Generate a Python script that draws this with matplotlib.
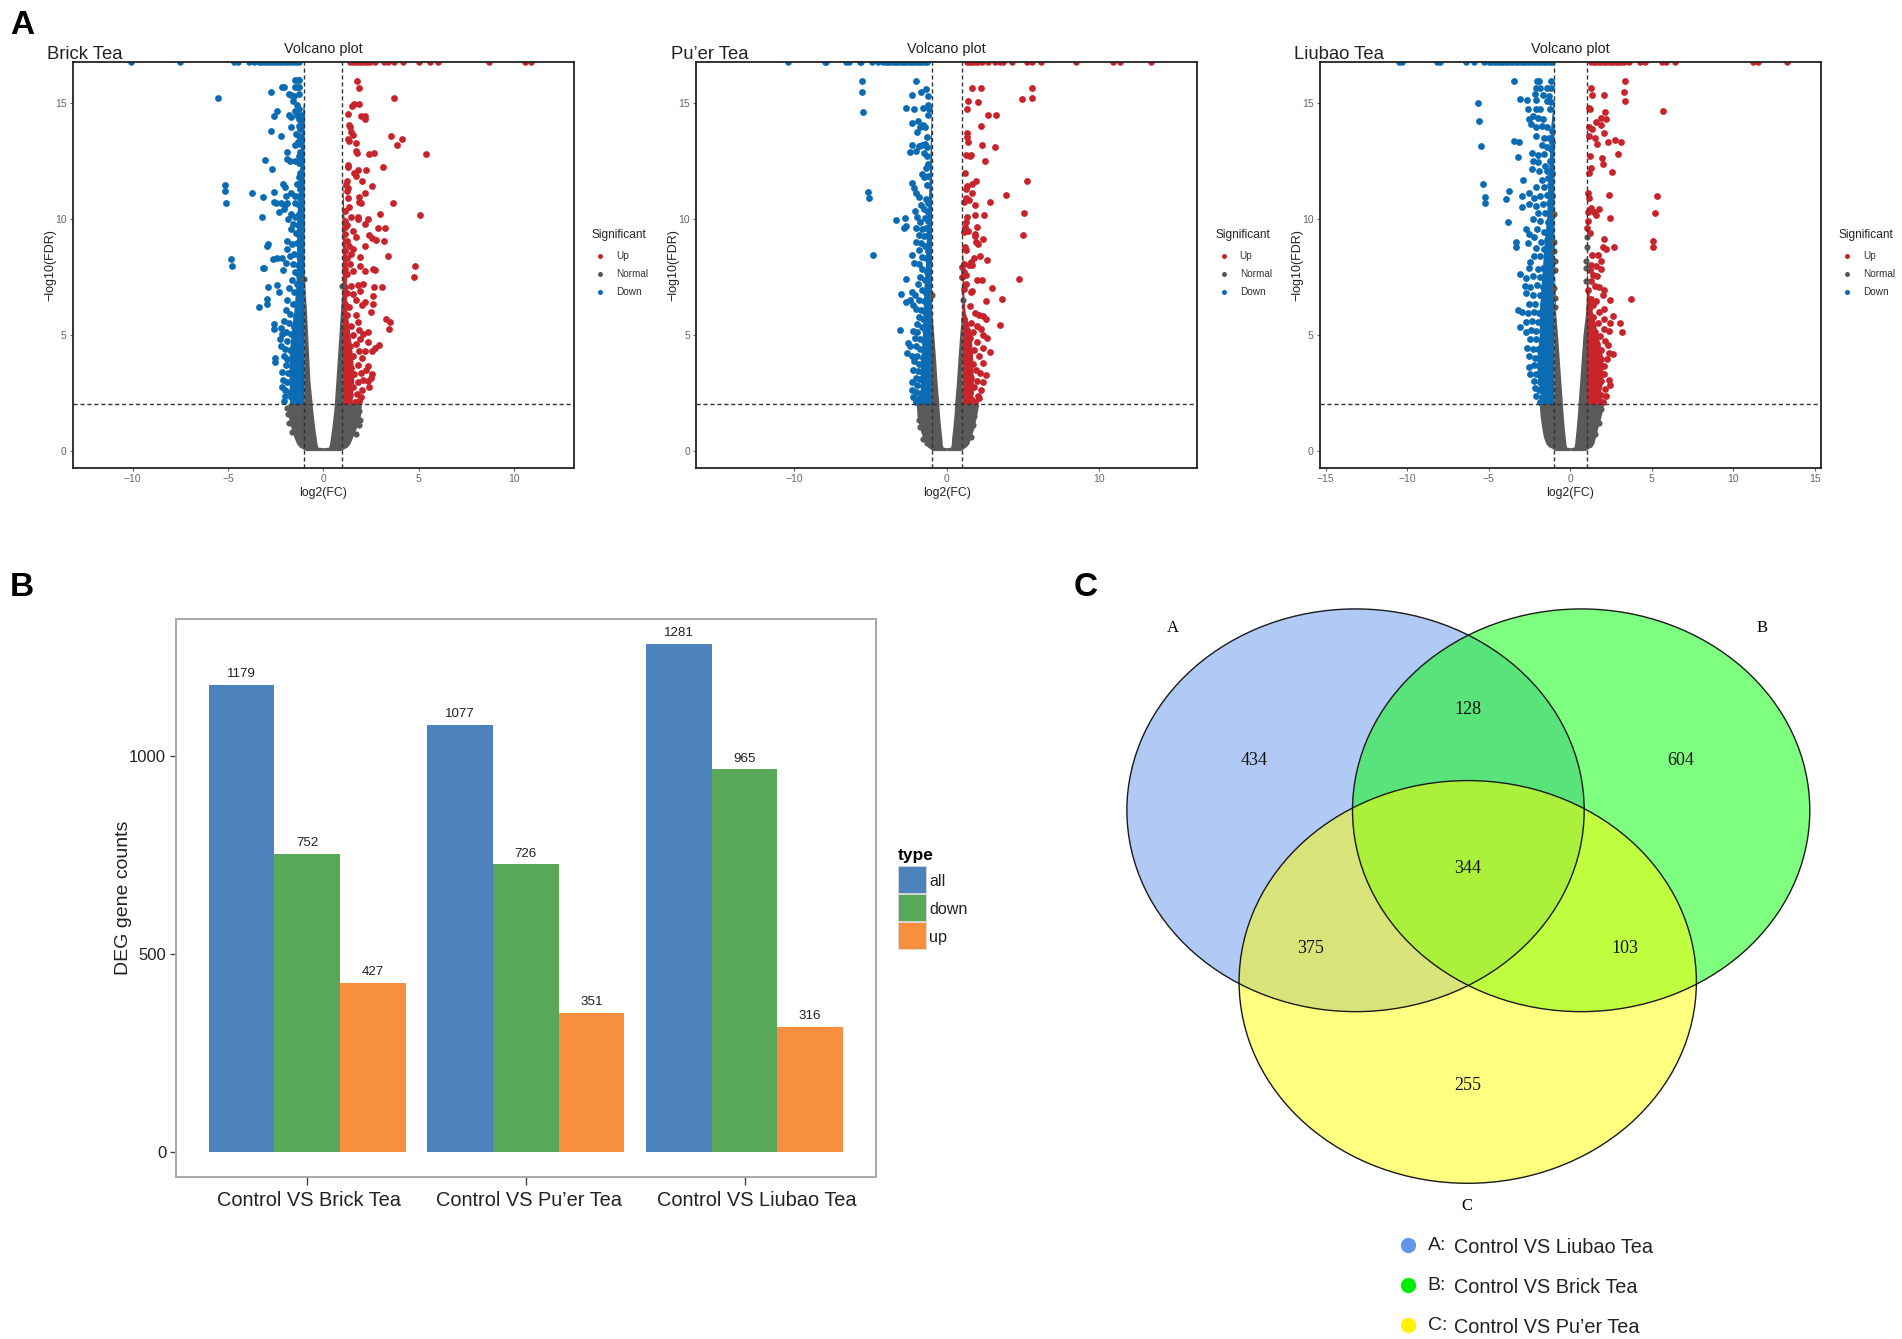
import matplotlib
matplotlib.use("Agg")
import matplotlib.pyplot as plt
from matplotlib.patches import Ellipse, Rectangle

plt.rcParams['font.family'] = ['Liberation Sans', 'DejaVu Sans']

W, H = 1902, 1339
K = 1902 / 1568  # reference coordinates were read at 1568 wide

RED = "#C8242B"
BLUE = "#0B6CB3"
GREY = "#5A5A5A"

# ---- panel A, points (log2FC, -log10FDR)
brick_down = [(-5.55,15.24),(-5.18,11.47),(-5.16,11.2),(-5.09,10.68),(-4.82,8.25),(-4.79,7.97),(-3.72,11.14),(-3.17,10.94),(-3.2,10.08),
    (-3.06,12.55),(-2.69,12.14),(-2.72,15.47),(-2.6,14.45),(-2.42,14.64),(-2.72,13.79),(-2.21,13.59),(-2.58,11.15),(-2.6,10.72),(-2.88,8.9),(-2.95,8.85),
    (-3.17,7.88),(-3.1,7.88),(-2.65,8.28),(-2.45,8.32),(-3.38,6.2),(-2.95,6.53),(-2.88,7.06),(-2.42,7.13),(-2.3,6.85),(-2.95,6.35),(-2.6,5.48),(-2.6,5.27),
    (-2.51,3.98),(-2.55,3.82),(-1.5,16),(-1.35,16),(-1.25,16),(-2.15,15.7),(-2.05,15.7),(-1.5,15.7),(-1.4,15.7),(-1.25,15.7),(-1.8,15.4),(-1.7,15.35),
    (-1.55,15.3),(-1.3,15.4),(-1.6,15.1),(-1.4,14.9),(-1.5,14.65),(-1.25,14.75),(-1.15,14.5),(-1.8,14.5),(-1.7,14.4),(-1.4,14.5),(-1.25,14.3),(-1.7,13.95),
    (-1.3,14),(-1.2,13.9),(-1.15,14.15),(-1.45,13.65),(-1.3,13.6),(-1.15,13.5),(-1.5,13.2),(-1.35,13.3),(-1.2,13.25),(-1.9,12.9),(-1.2,12.9),(-1.3,12.7),
    (-1.9,12.6),(-1.75,12.5),(-1.5,12.5),(-1.3,12.4),(-1.15,12.6),(-1.2,12),(-1.3,11.8),(-1.15,11.6),(-2.1,11.5),(-2,11.4),(-1.4,11.5),(-1.2,11.3),(-1.7,11.1),
    (-1.5,11),(-1.3,11),(-1.2,10.9),(-1.95,11),(-2.5,10.7),(-2.2,10.7),(-2,10.6),(-1.9,10.7),(-1.5,10.7),(-1.3,10.6),(-2.3,10.3),(-2.05,10.45),(-1.7,10.2),
    (-1.5,10.1),(-1.3,10.2),(-1.15,10.1),(-1.85,10),(-1.6,9.8),(-1.35,9.75),(-1.15,9.7),(-1.7,9.55),(-1.45,9.4),(-1.25,9.3),(-1.9,9.05),(-1.65,8.9),(-1.4,8.95),
    (-1.2,8.8),(-1.9,8.7),(-1.75,8.4),(-1.55,8.5),(-1.3,8.4),(-2.15,8.3),(-1.95,8.1),(-1.6,8.05),(-1.35,8),(-2.1,7.8),(-1.5,7.7),(-1.25,7.6),(-1.65,7.35),(-1.4,7.2),
    (-1.8,7),(-1.55,6.85),(-1.3,6.8),(-1.9,6.5),(-1.6,6.35),(-1.35,6.2),(-1.95,6.05),(-1.75,5.9),(-1.45,5.75),(-2.05,5.6),(-1.8,5.5),(-1.55,5.35),(-1.3,5.3),
    (-2.2,5.3),(-2.15,5.05),(-1.95,5.1),(-1.7,5.05),(-2.25,4.8),(-1.9,4.75),(-1.55,4.7),(-1.3,4.65),(-2.2,4.5),(-2,4.4),(-1.75,4.35),(-1.45,4.3),(-2.05,4.1),
    (-1.9,3.95),(-1.6,4),(-1.3,3.95),(-1.95,3.7),(-1.65,3.65),(-1.4,3.55),(-2.15,3.4),(-1.85,3.35),(-1.6,3.25),(-1.3,3.2),(-2.1,3.05),(-1.9,2.95),(-1.55,2.9),
    (-2.15,2.75),(-2,2.6),(-1.75,2.55),(-1.45,2.6),(-2,2.35),(-1.7,2.3),(-1.35,2.25),(-2.05,2.12),(-1.6,2.1),(-1.25,2.1)]
brick_up = [(1.78,15.95),(1.87,15.65),(3.7,15.24),(1.53,14.87),(1.62,14.94),(1.9,14.94),(1.3,14.55),(1.99,14.43),(2.19,14.45),(2.21,14.3),(1.35,14.07),(1.42,13.95),
    (1.46,13.74),(1.58,13.64),(3.58,13.56),(4.11,13.46),(3.86,13.19),(1.3,13.45),(1.37,13.35),(1.71,13.26),(1.74,12.95),(1.76,12.85),(2.42,12.8),(2.65,12.83),
    (5.37,12.8),(1.3,12.34),(1.28,12.23),(3.15,12.23),(1.83,12.11),(1.62,12),(2.24,12.11),(1.7,11.85),(2.03,11.64),(2.56,11.44),(1.23,11.65),(1.21,11.45),(1.23,11.2),
    (1.3,11.35),(2.21,11.1),(1.9,10.94),(1.32,10.9),(3.65,10.7),(1.85,10.72),(1.99,10.69),(1.37,10.5),(1.14,10.36),(2.99,10.22),(5.09,10.19),(1.46,10.1),(1.83,10.08),
    (1.83,9.98),(2.33,9.99),(2.21,9.79),(1.12,9.9),(1.24,9.75),(1.12,9.65),(1.55,9.5),(2.85,9.63),(3.22,9.63),(2.42,9.29),(2.56,9.16),(2.79,9.1),(3.17,9.04),(2.21,8.83),
    (1.12,9.35),(1.24,9.05),(1.7,9.2),(1.35,8.85),(1.58,8.7),(1.12,8.63),(1.46,8.5),(1.24,8.3),(1.92,8.35),(3.42,8.38),(1.92,7.99),(1.42,8.06),(4.84,7.98),(4.77,7.49),
    (2.21,7.75),(2.6,7.84),(2.74,7.78),(1.12,7.85),(1.24,7.63),(1.58,7.75),(1.12,7.06),(1.46,7.09),(1.8,7.13),(2.08,7.2),(2.65,7.06),(3.1,7.06),(1.92,6.9),(1.24,6.8),(1.55,6.77),
    (2.63,6.69),(1.7,6.5),(2.19,6.42),(2.6,6.34),(1.12,6.35),(1.35,6.2),(2.03,6.3),(2.49,5.99),(1.74,5.85),(1.24,5.85),(3.29,5.66),(3.52,5.54),(3.47,5.27),(1.8,5.55),(1.46,5.4),
    (1.12,5.2),(1.87,5.2),(2.37,5.1),(2.1,5.05),(1.58,5),(2.33,4.7),(1.95,4.8),(1.24,4.75),(2.95,4.55),(2.74,4.44),(2.56,4.31),(1.7,4.6),(1.4,4.5),(2.2,4.3),(1.85,4.3),
    (1.12,4.3),(1.58,4.1),(2.03,4),(1.3,3.95),(2.35,3.65),(1.8,3.7),(1.45,3.55),(2.25,3.5),(1.12,3.6),(2,3.35),(1.62,3.3),(2.55,3.3),(2.5,3.15),(2.35,3),(2.1,3.05),
    (1.3,3.1),(1.8,2.95),(2.4,2.75),(1.55,2.75),(2.03,2.6),(1.15,2.7),(1.75,2.45),(1.4,2.4),(2,2.3),(1.65,2.1),(1.2,2.15),(1.9,2.15)]
puer_down = [(-5.55,15.95),(-5.55,15.47),(-5.47,14.63),(-5.15,11.18),(-5.12,10.92),(-4.85,8.44),(-3.32,9.96),(-2.73,10.06),(-2.79,9.62),(-2.7,9.68),(-2.65,14.8),(-2.98,6.77),
    (-2.68,7.39),(-2.68,6.42),(-3.06,5.22),(-2.04,15.95),(-2.28,15.34),(-1.66,15.46),(-1.39,15.63),(-2.12,14.74),(-1.55,14.81),(-2.25,14.12),(-1.88,14.21),(-1.74,13.95),
    (-1.53,14.07),(-1.4,13.98),(-1.93,13.74),(-1.32,13.55),(-2.44,12.89),(-2.25,13.2),(-1.8,13.15),(-1.6,13.2),(-1.4,13.22),(-2.05,12.95),(-1.5,12.85),(-1.3,12.7),(-1.2,15.3),(-1.25,14.9),
    (-1.25,14.5),(-1.15,14.75),(-1.3,13.1),(-1.2,12.35),(-1.35,12.2),(-1.6,11.95),(-1.2,11.85),(-1.5,11.8),(-2.3,11.55),(-2.15,11.35),(-1.3,11.45),(-2.05,11.1),(-1.85,10.95),(-1.35,10.85),
    (-1.2,10.7),(-1.7,10.6),(-1.5,10.45),(-2.1,10.35),(-1.25,10.3),(-1.95,10.1),(-1.4,10.05),(-1.75,9.85),(-1.2,9.9),(-2,9.6),(-1.6,9.55),(-1.35,9.6),(-1.8,9.3),(-1.5,9.25),(-1.2,9.3),
    (-2,9),(-1.7,8.95),(-1.4,8.85),(-1.85,8.65),(-1.2,8.6),(-2.3,8.45),(-1.6,8.35),(-1.35,8.3),(-2.15,8.1),(-1.85,8.05),(-1.15,8.1),(-1.6,7.85),(-1.3,7.7),(-1.75,7.5),(-1.45,7.35),(-1.2,7.3),
    (-1.9,7.2),(-2.3,6.85),(-2.1,6.7),(-1.6,6.95),(-1.35,6.8),(-2.4,6.5),(-2.2,6.3),(-1.8,6.5),(-1.5,6.45),(-1.25,6.3),(-2.05,6.1),(-1.7,6.05),(-1.4,6),(-1.85,5.75),(-1.55,5.7),(-1.25,5.6),
    (-1.95,5.45),(-1.65,5.35),(-2.2,5.15),(-1.95,5.1),(-1.45,5.2),(-1.25,5.1),(-2.1,4.85),(-1.75,4.8),(-1.5,4.75),(-2.55,4.65),(-2.4,4.5),(-2.05,4.5),(-1.75,4.4),(-1.35,4.4),(-2.6,4.2),(-2.3,4.1),
    (-1.95,4.1),(-1.55,4),(-2.15,3.85),(-1.8,3.75),(-1.35,3.7),(-2.2,3.5),(-1.9,3.45),(-1.6,3.4),(-2.05,3.15),(-1.75,3.1),(-1.35,3.05),(-2.3,2.95),(-1.95,2.85),(-1.55,2.8),(-2.3,2.6),(-2.05,2.55),
    (-1.7,2.5),(-1.35,2.45),(-2.2,2.3),(-1.85,2.25),(-1.5,2.2),(-2,2.1),(-1.65,2.08),(-1.25,2.1)]
puer_up = [(1.69,15.65),(2.25,15.65),(5.6,15.65),(4.93,15.17),(5.58,15.24),(1.42,15.1),(2.04,15.04),(1.34,14.74),(2.73,14.47),(3.22,14.47),(2.23,14),(1.31,13.72),(1.34,13.55),
    (1.39,13.32),(2.31,13.2),(3.14,13.1),(1.29,12.76),(1.5,12.73),(1.6,12.76),(2.52,12.5),(1.21,12),(1.9,11.63),(5.25,11.65),(1.64,11.49),(1.34,11.44),(1.29,11.3),(3.89,11.05),(1.64,11.1),
    (1.29,10.9),(2.81,10.75),(1.15,10.75),(1.47,10.83),(1.88,10.62),(5.09,10.26),(1.85,10.18),(2.47,10.18),(1.34,10.08),(1.29,9.87),(1.21,9.65),(1.96,9.65),(4.99,9.32),(1.1,9.44),
    (1.42,9.5),(1.88,9.36),(1.88,9.26),(2.36,9.13),(1.9,9),(2.04,8.93),(1.21,8.8),(1.29,8.64),(2.17,8.38),(2.63,8.22),(1.77,8.32),(1.6,8.14),(1.45,8),(1.15,8.07),(1.02,7.93),(1.69,8),(1.15,7.7),
    (1.29,7.56),(1.02,7.49),(1.96,7.38),(2.31,7.38),(4.75,7.41),(2.95,7.02),(1.29,7.2),(1.15,6.98),(1.69,6.88),(1.6,6.84),(3.65,6.55),(2.55,6.47),(1.5,6.23),(1.88,5.92),(2.1,5.85),(2.4,5.8),
    (2.55,5.7),(3.51,5.43),(1.15,5.7),(1.6,5.5),(2,5.4),(2.25,5.25),(1.3,5.2),(1.75,5.1),(2.4,5),(2.65,4.85),(1.5,4.85),(2,4.7),(1.2,4.6),(2.35,4.45),(2.85,4.25),(1.8,4.35),(1.45,4.2),
    (2.1,4.1),(1.2,4),(2.35,3.8),(1.7,3.75),(1.95,3.5),(1.35,3.45),(2.2,3.35),(2.55,3.25),(1.6,3.15),(2,3),(2.4,2.95),(1.25,2.9),(1.8,2.75),(2.25,2.6),(1.5,2.55),(1.1,2.45),(2.05,2.35),(2.15,2.25),
    (1.65,2.2),(1.3,2.12),(1.85,2.1)]
liubao_down = [(-5.65,15),(-5.58,14.22),(-5.48,13.15),(-5.33,11.5),(-5.25,10.94),(-5.23,10.68),(-3.74,11.22),(-3.92,10.85),(-3.82,9.85),(-3.44,15.95),(-3.07,15.17),(-3.47,13.38),(-3.17,13.3),
    (-3.19,12.66),(-2.89,11.7),(-2.96,10.97),(-2.96,10.53),(-3.34,9.01),(-3.32,8.77),(-3.07,7.64),(-3.19,6.09),(-2.95,5.98),(-3.09,5.34),(-2.05,15.95),(-1.9,15.95),(-1.2,15.95),(-2.1,15.65),(-1.85,15.65),
    (-1.4,15.65),(-1.2,15.65),(-2.15,15.4),(-1.7,15.35),(-1.3,15.3),(-2.65,15.15),(-2.1,15.15),(-1.4,15.1),(-1.2,15.05),(-2.6,14.75),(-2.1,14.75),(-1.85,14.75),(-1.25,14.75),(-2.55,14.3),(-2.3,14.45),
    (-1.95,14.35),(-1.65,14.3),(-2.4,14.1),(-2.1,13.95),(-1.75,14),(-1.4,13.95),(-1.15,13.8),(-2.1,13.6),(-1.6,13.5),(-1.3,13.5),(-1.15,13.3),(-1.75,13.2),(-1.4,13.1),(-1.2,13),(-2.35,12.85),(-2,12.75),
    (-1.6,12.8),(-2.3,12.5),(-1.95,12.45),(-1.55,12.3),(-1.25,12.5),(-2.35,12.15),(-1.9,12.05),(-1.4,12.05),(-1.15,12),(-1.75,11.7),(-1.35,11.75),(-2.1,11.4),(-1.6,11.4),(-1.25,11.45),(-2.55,11.1),(-2.25,10.9),
    (-1.85,11),(-1.45,11.05),(-1.15,11),(-2.55,10.65),(-2.1,10.55),(-1.7,10.65),(-1.3,10.7),(-2,10.25),(-1.55,10.25),(-1.2,10.2),(-2.3,10),(-1.85,9.9),(-1.35,9.85),(-2.7,9.55),(-2.5,9.35),(-2.05,9.55),(-1.6,9.45),
    (-1.25,9.5),(-2.2,9.2),(-1.8,9),(-1.4,9.1),(-2.6,8.95),(-2.1,8.75),(-1.6,8.7),(-1.2,8.75),(-2.45,8.15),(-2.2,8.4),(-1.85,8.4),(-1.4,8.35),(-2.5,7.9),(-2,7.85),(-1.65,7.9),(-1.25,7.95),(-2.7,7.45),(-2.3,7.55),(-1.85,7.5),
    (-1.45,7.55),(-2.75,7.1),(-2.45,7.05),(-2.05,7.15),(-1.65,7.05),(-1.2,7.15),(-2.7,6.8),(-2.3,6.7),(-1.85,6.7),(-1.45,6.75),(-2.55,6.35),(-2.15,6.35),(-1.7,6.35),(-1.25,6.4),(-2.6,5.95),(-2.25,6),(-1.9,5.95),(-1.5,6),
    (-2.7,5.55),(-2.35,5.6),(-2,5.55),(-1.6,5.6),(-1.25,5.6),(-2.7,5.1),(-2.4,5.2),(-2.1,5.15),(-1.75,5.15),(-1.4,5.2),(-2.45,4.8),(-2.1,4.8),(-1.75,4.75),(-1.3,4.85),(-2.65,4.45),(-2.3,4.4),(-1.95,4.4),(-1.55,4.4),(-2.5,4.1),(-2.15,4),
    (-1.8,4.05),(-1.35,4),(-2.55,3.6),(-2.25,3.7),(-1.9,3.65),(-1.5,3.7),(-2.45,3.3),(-2.1,3.3),(-1.7,3.3),(-1.3,3.3),(-2.2,3),(-1.85,2.95),(-1.5,2.95),(-2.15,2.7),(-1.9,2.6),(-1.6,2.65),(-1.25,2.65),(-2.1,2.35),(-1.75,2.3),(-1.4,2.35),
    (-1.85,2.1),(-1.55,2.08),(-1.2,2.1)]
liubao_up = [(3.39,15.95),(1.28,15.65),(3.27,15.47),(1.33,15.34),(2.09,15.34),(3.34,15.1),(1.13,14.8),(1.21,14.73),(2.14,14.63),(5.68,14.64),(1.91,14.35),(2.21,14.31),(1.61,14.18),(1.86,14.05),(1.18,13.95),(1.36,13.9),(2.06,13.7),
    (1.16,13.6),(1.51,13.49),(1.63,13.25),(2.34,13.33),(2.76,13.39),(3.12,13.3),(2.94,12.8),(1.21,12.73),(1.96,12.62),(1.98,12.36),(1.26,12.2),(1.13,12),(2.56,12.04),(1.06,11.1),(2.36,11.02),(5.33,11.01),(1.18,10.9),(1.78,10.41),(1.26,10.48),
    (1.11,10.32),(1.43,10.3),(1.58,10.15),(5.23,10.26),(2.44,10.06),(1.06,9.9),(1.01,9.6),(1.21,9.4),(2.06,9.13),(5.1,9.03),(5.08,8.77),(2.01,8.8),(2.21,8.7),(2.66,8.78),(1.36,8.45),(1.68,8.45),(1.91,8.17),(1.3,8),(1.55,7.95),(1.9,7.85),
    (1.2,7.8),(1.4,7.6),(1.65,7.55),(1.25,7.3),(1.5,7.1),(1.75,7.05),(2.1,6.95),(1.1,6.95),(3.72,6.55),(2.03,6.7),(2.45,6.5),(1.25,6.55),(1.6,6.45),(1.4,6.3),(2.1,6.1),(1.15,6.1),(1.75,6),(2.6,5.8),(1.4,5.75),(2.05,5.7),(3.05,5.5),(2.45,5.5),(1.7,5.5),
    (1.2,5.4),(2.05,5.25),(3.2,5.1),(2.35,5.15),(1.5,5.1),(1.85,4.95),(2.15,4.75),(1.3,4.8),(1.65,4.6),(2.3,4.55),(1.1,4.4),(1.9,4.35),(2.4,4.2),(2.6,4.15),(2.25,3.95),(1.5,4.05),(1.9,3.95),(1.25,3.8),(1.7,3.7),(2.1,3.65),(1.45,3.5),(1.85,3.4),
    (2.1,3.3),(1.25,3.3),(1.6,3.2),(2.35,3.05),(2.45,2.85),(1.9,3),(1.35,2.9),(1.7,2.75),(2.15,2.65),(1.15,2.6),(1.5,2.5),(1.9,2.4),(2.2,2.35),(1.3,2.25),(1.75,2.15),(1.15,2.1),(1.55,2.1),(2,2.1)]

# points pushed to the top edge, only x can be read
brick_top_down = [-10.1,-7.5,-4.7,-4.5,-3.9,-3.65,-3.4,-3.25,-3.1,-2.95,-2.8,-2.65,-2.5,-2.35,-2.2,-2.05,-1.9,-1.75,-1.6,-1.45,-1.3]
brick_top_up = [1.4,1.55,1.7,1.85,2,2.15,2.3,2.45,2.7,3.2,3.4,3.7,4.2,5,5.6,6,8.7,10.6,10.9]
puer_top_down = [-10.4,-8,-7.9,-6.6,-6.4,-5.7,-5.6,-4.9,-4.5,-4.2,-4,-3.85,-3.7,-3.55,-3.4,-3.25,-3.1,-2.95,-2.8,-2.65,-2.5,-2.35,-2.2,-2.05,-1.9,-1.75,-1.6,-1.45,-1.3]
puer_top_up = [1.3,1.45,1.6,1.75,1.9,2.05,2.3,2.7,3.2,3.5,3.7,4.3,5.3,5.6,6.2,8.5,10.9,11.4,13.4]
liubao_top_down = [-10.5,-10.3,-8.2,-8,-6.4,-5.9,-5.3,-5,-4.85,-4.7,-4.55,-4.4,-4.25,-4.1,-3.95,-3.8,-3.65,-3.5,-3.35,-3.2,-3.05,-2.9,-2.75,-2.6,-2.45,-2.3,-2.15,-2,-1.85,-1.7,-1.55,-1.4,-1.25,-1.1]
liubao_top_up = [1.3,1.45,1.6,1.75,1.9,2.05,2.2,2.35,2.5,2.65,2.8,2.95,3.1,3.3,3.6,4.3,4.6,5.6,5.9,6.4,11.2,11.5,13.3]

# grey V: y levels with the outer and inner edge on each side
grey_y = [0,0.06,0.13,0.15,0.3,0.6,1,1.5,1.98,2.02,3,4,5,6,7,7.7]
brick_out_l = [-0.9,-1.05,-1.2,-1.25,-1.4,-1.55,-1.7,-1.85,-1.9,-1,-1,-1,-1,-1,-1,-1]
brick_in_l = [0,0,0,-0.28,-0.33,-0.38,-0.45,-0.52,-0.58,-0.58,-0.7,-0.76,-0.82,-0.88,-0.96,-1]
brick_out_r = [0.9,1.05,1.2,1.25,1.4,1.55,1.75,1.95,2,1,1,1,1,1,1,1]
brick_in_r = [0,0,0,0.28,0.33,0.38,0.45,0.52,0.58,0.58,0.66,0.74,0.82,0.9,0.98,1]
puer_out_l = [-0.9,-1.05,-1.2,-1.25,-1.45,-1.6,-1.8,-1.95,-2,-1,-1,-1,-1,-1,-1,-1]
puer_in_l = [0,0,0,-0.25,-0.3,-0.33,-0.4,-0.47,-0.52,-0.52,-0.64,-0.74,-0.85,-0.98,-1,-1]
puer_out_r = [0.9,1.05,1.2,1.25,1.45,1.6,1.8,1.95,2.1,1,1,1,1,1,1,1]
puer_in_r = [0,0,0,0.25,0.3,0.33,0.4,0.47,0.52,0.52,0.64,0.74,0.85,0.98,1,1]
liubao_out_l = [-0.9,-1.05,-1.2,-1.3,-1.5,-1.65,-1.75,-1.85,-1.9,-1,-1,-1,-1,-1,-0.97,-0.97]
liubao_in_l = [0,0,0,-0.22,-0.27,-0.31,-0.37,-0.43,-0.48,-0.48,-0.58,-0.68,-0.78,-0.9,-0.93,-0.97]
liubao_out_r = [0.9,1.05,1.2,1.3,1.45,1.55,1.7,1.9,2.05,1,1,1,1,1,1,1]
liubao_in_r = [0,0,0,0.22,0.27,0.31,0.37,0.43,0.48,0.48,0.58,0.68,0.78,0.95,1,1]

# single grey points that stick out of the V
brick_grey = [(-1.85,1.6),(-1.8,1.2),(-1.9,1.85),(-1.65,0.8),(1.9,1.7),(1.95,1.3),(1.85,1.1),(1.7,0.7),(-1,7.4),(0.97,7.1)]
puer_grey = [(-1.85,1.3),(-1.75,1),(-1.55,0.5),(-1.3,0.35),(1.8,1.5),(1.75,1.1),(1.6,0.6),(1.05,6.5),(-1,6.7)]
liubao_grey = [(-0.95,6.2),(-0.95,6.6),(-0.97,7),(-0.95,7.8),(-0.95,8.2),(-1,8.6),(-1,9),(-1.02,10.2),(1,8.8),(1,9.2),(0.97,7.3),(0.95,7.9),(0.95,8.2),(1.9,1.8),(1.75,1.2),(1.5,0.7)]

# thick part of the blue and red columns next to the threshold
core_y = [2,3,4,5,6,7,8,9,10,11,12,13,14,15]
brick_core_down = [-1.75,-1.8,-1.8,-1.7,-1.55,-1.45,-1.4,-1.4,-1.4,-1.3,-1.25,-1.2,-1.15,-1.05]
brick_core_up = [1.5,1.6,1.55,1.4,1.25,1.2,1.25,1.15,1.1,1.05,1,1,1,1]
puer_core_down = [-1.7,-1.75,-1.7,-1.6,-1.55,-1.5,-1.4,-1.35,-1.3,-1.2,-1.15,-1.1,-1.05,-1]
puer_core_up = [1.7,1.75,1.7,1.6,1.2,1.1,1.1,1,1,1,1,1,1,1]
liubao_core_down = [-1.7,-2,-2.05,-1.9,-1.9,-1.8,-1.7,-1.6,-1.45,-1.4,-1.35,-1.25,-1.2,-1.05]
liubao_core_up = [1.7,2,2,1.7,1.35,1.1,1,1,1,1,1,1,1,1]

volcano_names = ["Brick Tea", "Pu\u2019er Tea", "Liubao Tea"]
volcano_ticks = [[-10,-5,0,5,10], [-10,0,10], [-15,-10,-5,0,5,10,15]]
volcano_xlim = [13.15, 16.45, 15.37]
legend_levels = ["Up", "Normal", "Down"]

# ---- panel B
pairs = ["Control VS Brick Tea", "Control VS Pu\u2019er Tea", "Control VS Liubao Tea"]
deg_all = [1179, 1077, 1281]
deg_down = [752, 726, 965]
deg_up = [427, 351, 316]
deg_types = ["all", "down", "up"]
deg_colors = ["#4C83BC", "#59A859", "#F88F3E"]

# ---- panel C
venn_counts = [434, 604, 255, 128, 375, 103, 344]
venn_names = ["Control VS Liubao Tea", "Control VS Brick Tea", "Control VS Pu\u2019er Tea"]
venn_colors = ["#6495ED", "#00FF00", "#FFFF00"]


def add_px_axes(l, t, r, b):
    return fig.add_axes([l * K / W, 1 - b * K / H, (r - l) * K / W, (b - t) * K / H])


fig = plt.figure(figsize=(W / 100, H / 100), dpi=100)

# overlay in reference coordinates, for free text and the venn
ov = fig.add_axes([0, 0, 1, 1], zorder=5)
ov.set_xlim(0, W / K)
ov.set_ylim(H / K, 0)
ov.axis("off")

volcano_boxes = [(60, 473), (574, 987), (1088, 1501)]
volcano_data = [
    (brick_down, brick_up, brick_top_down, brick_top_up, brick_out_l, brick_in_l, brick_out_r, brick_in_r, brick_core_down, brick_core_up, brick_grey),
    (puer_down, puer_up, puer_top_down, puer_top_up, puer_out_l, puer_in_l, puer_out_r, puer_in_r, puer_core_down, puer_core_up, puer_grey),
    (liubao_down, liubao_up, liubao_top_down, liubao_top_up, liubao_out_l, liubao_in_l, liubao_out_r, liubao_in_r, liubao_core_down, liubao_core_up, liubao_grey),
]

for i, data in enumerate(volcano_data):
    down, up, top_d, top_u, out_l, in_l, out_r, in_r, core_d, core_u, extra = data
    l, r = volcano_boxes[i]
    ax = add_px_axes(l, 51, r, 386)
    lim = volcano_xlim[i]
    ax.set_xlim(-lim, lim)
    ax.set_ylim(-0.76, 16.78)
    top = 16.78

    ax.fill_betweenx(core_y, core_d, -1, color=BLUE, lw=0, zorder=2)
    ax.fill_betweenx(core_y, 1, core_u, color=RED, lw=0, zorder=2)
    ax.scatter([p[0] for p in down], [p[1] for p in down], s=24, color=BLUE, lw=0, zorder=2)
    ax.scatter([p[0] for p in up], [p[1] for p in up], s=24, color=RED, lw=0, zorder=2)
    ax.scatter(top_d, [top] * len(top_d), s=22, color=BLUE, lw=0, zorder=2)
    ax.scatter(top_u, [top] * len(top_u), s=22, color=RED, lw=0, zorder=2)
    ax.fill_betweenx(grey_y, out_l, in_l, color=GREY, lw=0, zorder=3)
    ax.fill_betweenx(grey_y, in_r, out_r, color=GREY, lw=0, zorder=3)
    ax.scatter([p[0] for p in extra], [p[1] for p in extra], s=20, color=GREY, lw=0, zorder=3)

    ax.axhline(2, color="#333333", ls=(0, (3, 2)), lw=1, zorder=4)
    ax.axvline(-1, color="#333333", ls=(0, (3, 2)), lw=1, zorder=4)
    ax.axvline(1, color="#333333", ls=(0, (3, 2)), lw=1, zorder=4)

    ax.set_xticks(volcano_ticks[i])
    ax.set_xticklabels([str(t).replace("-", "\u2212") for t in volcano_ticks[i]])
    ax.set_yticks([0, 5, 10, 15])
    ax.tick_params(labelsize=7.5, colors="#666666", length=2.5, width=0.8, pad=2)
    for s in ax.spines.values():
        s.set_linewidth(1.3)
        s.set_color("#222222")
    ax.set_xlabel("log2(FC)", fontsize=8.8, color="#222222", labelpad=2)
    ax.set_ylabel("\u2212log10(FDR)", fontsize=9, color="#222222", labelpad=-1)

    mid = (l + r) / 2
    ov.text(mid, 40, "Volcano plot", fontsize=10.4, ha="center", va="center", color="#222222")
    ov.text(l - 21, 45, volcano_names[i], fontsize=13.3, ha="left", va="center", color="#222222")
    ov.text(r + 15, 194, "Significant", fontsize=8.6, ha="left", va="center", color="#222222")
    for lab, col, yy in zip(legend_levels, [RED, GREY, BLUE], [211, 226, 241]):
        ov.scatter([r + 22], [yy], s=13, color=col, lw=0)
        ov.text(r + 35, yy, lab, fontsize=7.2, ha="left", va="center", color="#333333")

# bar panel
axb = add_px_axes(145, 510, 722, 970)
bar_w = 0.3
for j, (vals, col) in enumerate(zip([deg_all, deg_down, deg_up], deg_colors)):
    xs = [k + (j - 1) * bar_w for k in range(3)]
    axb.bar(xs, vals, width=bar_w, color=col, lw=0)
    for x, v in zip(xs, vals):
        axb.text(x, v + 12, str(v), ha="center", va="bottom", fontsize=9.6, color="#222222")
axb.set_xlim(-0.6, 2.6)
axb.set_ylim(-61, 1345)
axb.set_xticks(range(3))
axb.set_xticklabels([])
# the category labels sit a little right of their ticks in the original
for name, cx in zip(pairs, [254.5, 436.5, 624]):
    ov.text(cx, 990, name, fontsize=14.4, ha="center", va="center", color="#222222")
axb.set_yticks([0, 500, 1000])
axb.tick_params(axis="y", labelsize=12, length=4, width=1, color="#444444", pad=3, labelcolor="#222222")
axb.tick_params(axis="x", length=6, width=1, color="#444444", pad=8)
for s in axb.spines.values():
    s.set_color("#A8A8A8")
    s.set_linewidth(1.4)
axb.set_ylabel("DEG gene counts", fontsize=14, color="#222222", labelpad=-2)

ov.text(740, 705, "type", fontsize=12.5, fontweight="bold", ha="left", va="center")
for t, col, yy in zip(deg_types, deg_colors, [714, 737, 760]):
    ov.add_patch(Rectangle((740, yy), 23, 22.5, facecolor=col, edgecolor="#D8D8D8", lw=0.6))
    ov.text(766, yy + 13, t, fontsize=11.6, ha="left", va="center", color="#222222")

# venn
venn_centers = [(1117.5, 668), (1303.5, 668), (1210, 809.5)]
for (cx, cy), col in zip(venn_centers, venn_colors):
    ov.add_patch(Ellipse((cx, cy), 377, 332, facecolor=col, alpha=0.5, lw=0))
for cx, cy in venn_centers:
    ov.add_patch(Ellipse((cx, cy), 377, 332, fill=False, edgecolor="#1A1A1A", lw=1))

serif = ['Liberation Serif']
venn_spots = [(1034, 627), (1385.5, 627), (1210, 895), (1210, 585), (1080.5, 782), (1339.5, 782), (1210, 716)]
for n, (sx, sy) in zip(venn_counts, venn_spots):
    ov.text(sx, sy, str(n), fontsize=13, ha="center", va="center", family=serif, color="#111111")
ov.text(966.5, 518, "A", fontsize=12, ha="center", va="center", family=serif)
ov.text(1453, 518, "B", fontsize=12, ha="center", va="center", family=serif)
ov.text(1209.5, 994, "C", fontsize=12, ha="center", va="center", family=serif)

for letter, name, col, yy in zip("ABC", venn_names, ["#6495ED", "#00EE00", "#FFF200"], [1026, 1059, 1092]):
    ov.scatter([1160.5], [yy], s=120, color=col, lw=0)
    ov.text(1177, yy + 1, letter + ":", fontsize=14, ha="left", va="center", color="#222222")
    ov.text(1199, yy + 2.5, name, fontsize=14.3, ha="left", va="center", color="#222222")

# panel letters
for letter, x, y in [("A", 18, 21), ("B", 18, 484), ("C", 895, 484)]:
    ov.text(x, y, letter, fontsize=24, fontweight="bold", ha="center", va="center")

fig.savefig("out.png", dpi=100)
